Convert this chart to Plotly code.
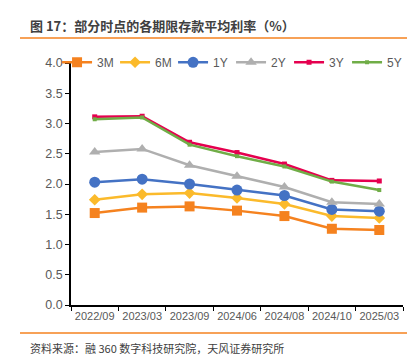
import plotly.graph_objects as go

categories = ["2022/09", "2023/03", "2023/09", "2024/06", "2024/08", "2024/10", "2025/03"]
s3m = [1.52, 1.61, 1.63, 1.56, 1.47, 1.26, 1.24]
s6m = [1.74, 1.83, 1.85, 1.77, 1.67, 1.47, 1.44]
s1y = [2.03, 2.08, 2.00, 1.90, 1.81, 1.58, 1.55]
s2y = [2.53, 2.58, 2.31, 2.13, 1.95, 1.70, 1.67]
s3y = [3.11, 3.12, 2.69, 2.52, 2.33, 2.06, 2.05]
s5y = [3.07, 3.10, 2.65, 2.46, 2.29, 2.04, 1.90]
y_ticks = [0.0, 0.5, 1.0, 1.5, 2.0, 2.5, 3.0, 3.5, 4.0]

series = [
    ("3M", s3m, "#F5821F", "square", 10),
    ("6M", s6m, "#FBBA2B", "diamond", 9),
    ("1Y", s1y, "#4472C4", "circle", 11),
    ("2Y", s2y, "#AFAFAF", "triangle-up", 10),
    ("3Y", s3y, "#E5004F", "square", 5),
    ("5Y", s5y, "#70AD47", "square", 4),
]

fig = go.Figure()
for name, vals, color, sym, size in series:
    fig.add_trace(go.Scatter(
        x=categories, y=vals, name=name, mode="lines+markers",
        line=dict(color=color, width=2.5),
        marker=dict(symbol=sym, size=size, color=color),
    ))

L, R, T, B = 63, 20, 55, 59
W, H = 415, 356
pw, ph = W - L - R, H - T - B

def px2x(px):
    return (px - L) / pw

def py2y(py):
    return (H - B - py) / ph

fig.update_layout(
    width=W, height=H,
    margin=dict(l=L, r=R, t=T, b=B),
    paper_bgcolor="white", plot_bgcolor="white",
    font=dict(family="Liberation Sans, Arial, Noto Sans CJK SC", size=12, color="#595959"),
    showlegend=True,
    legend=dict(orientation="h", x=-0.042, y=1.003, xanchor="left", yanchor="middle",
                bgcolor="rgba(255,255,255,0)", font=dict(size=12, color="#595959"),
                entrywidth=13, entrywidthmode="pixels", itemwidth=30, tracegroupgap=0),
    xaxis=dict(type="category", showgrid=False, showline=True, linecolor="black", linewidth=1.5,
               ticks="outside", ticklen=4, tickcolor="black", tickson="boundaries", tickangle=0,
               tickfont=dict(size=11, color="#595959"), range=[-0.5, 6.5]),
    yaxis=dict(range=[0, 4.0], tickvals=y_ticks, ticktext=[f"{v:.1f}" for v in y_ticks],
               showgrid=False, showline=True, linecolor="black", linewidth=1.5,
               ticks="outside", ticklen=4, tickcolor="black", zeroline=False,
               tickfont=dict(size=12.5, color="#595959")),
    shapes=[
        dict(type="line", xref="paper", yref="paper", x0=px2x(12), x1=px2x(413), y0=py2y(30), y1=py2y(30),
             line=dict(color="#F5821F", width=1.5)),
        dict(type="line", xref="paper", yref="paper", x0=px2x(12), x1=px2x(413), y0=py2y(325), y1=py2y(325),
             line=dict(color="#F5821F", width=1.5)),
    ],
    annotations=[
        dict(text="<b>图 17：部分时点的各期限存款平均利率（%）</b>", xref="paper", yref="paper",
             x=px2x(20), y=py2y(17), xanchor="left", yanchor="middle", showarrow=False,
             font=dict(family="Noto Sans CJK SC", size=13, color="#404040")),
        dict(text="资料来源：融 360 数字科技研究院，天风证券研究所", xref="paper", yref="paper",
             x=px2x(20), y=py2y(340), xanchor="left", yanchor="middle", showarrow=False,
             font=dict(family="Noto Sans CJK SC", size=11, color="#404040")),
    ],
)

fig.write_html("out.html")
